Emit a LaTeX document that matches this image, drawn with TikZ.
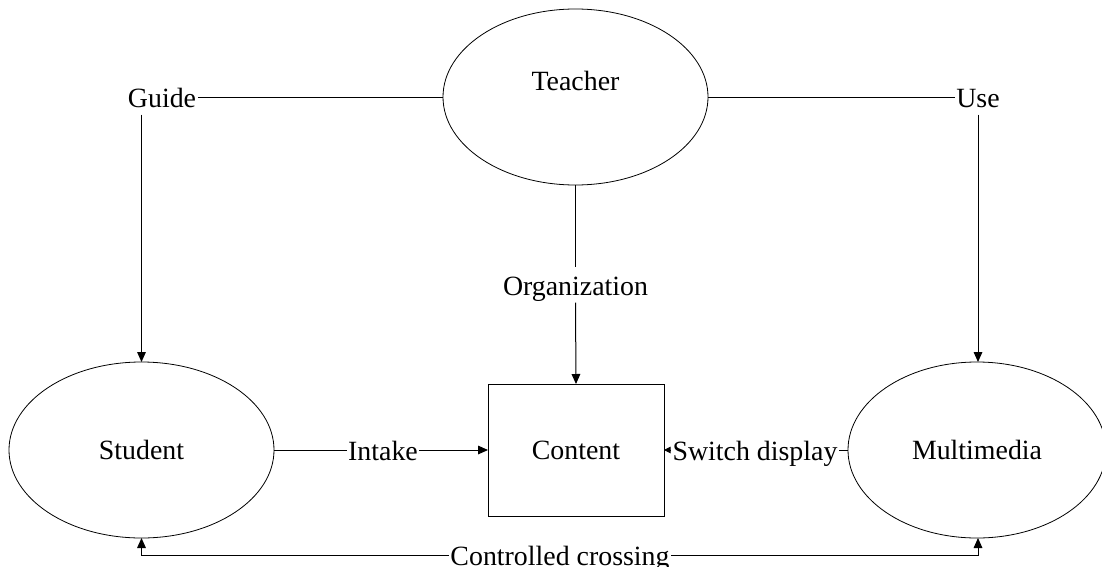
\documentclass[tikz,border=0pt]{standalone}
\usepackage{fontspec}
\setmainfont{Liberation Serif}
\usetikzlibrary{shapes.geometric,arrows.meta}

\begin{document}
\begin{tikzpicture}[
  x=0.75pt, y=-0.75pt,
  every node/.style={font=\fontsize{20.9}{25}\selectfont},
  oval/.style={ellipse, draw, line width=0.6pt, inner sep=0pt, outer sep=0pt,
               minimum width={265*0.75pt}, minimum height={176*0.75pt}},
  box/.style={rectangle, draw, line width=0.6pt, inner sep=0pt, outer sep=0pt,
              minimum width={176*0.75pt}, minimum height={132*0.75pt}},
  lbl/.style={inner xsep=1pt, inner ysep=2.5pt, text height=18pt, text depth=3pt},
  link/.style={line width=0.75pt},
  arr/.style={link, -{Triangle[length=7.5pt, width=6.5pt]}},
  arrs/.style={link, -{Triangle[length=5pt, width=5pt]}}
]
\useasboundingbox (0,0) rectangle (1102,567);

% actors and the shared content
\node[oval] (teacher) at (575.5,97) {};
\node[lbl] (teachertxt) at (575.5,80) {Teacher};
\node[oval] (student) at (141.5,450) {Student};
\node[oval, minimum width={258*0.75pt}] (media) at (977,450) {Multimedia};
\node[box] (content) at (576,450) {Content};

% relation labels
\node[lbl] (guide) at (162,97) {Guide};
\node[lbl] (use) at (978,97) {Use};
\node[lbl] (org) at (575.5,285) {Organization};
\node[lbl] (intake) at (383,450) {Intake};
\node[lbl] (switch) at (755,450) {Switch display};
\node[lbl] (ctrl) at (560,555) {Controlled crossing};

% teacher guides the student
\draw[link] (teacher.west) -- (guide.east);
\draw[arr] (guide.south -| student.north) -- (student.north);

% teacher uses multimedia
\draw[link] (teacher.east) -- (use.west);
\draw[arr] (use.south) -- (use.south |- media.north);

% teacher organizes content
\draw[link] (teacher.south) -- (org.north);
\draw[arr] (org.south) -- (content.north);

% student takes in content
\draw[link] (student.east) -- (intake.west);
\draw[arr] (intake.east) -- (content.west);

% multimedia switches the display
\draw[link] (media.west) -- (switch.east);
\draw[arrs] (switch.west) -- (content.east);

% controlled crossing between student and multimedia
\draw[arr] (ctrl.west) -| (student.south);
\draw[arr] (ctrl.east) -| (use.south |- media.south);
\end{tikzpicture}
\end{document}
